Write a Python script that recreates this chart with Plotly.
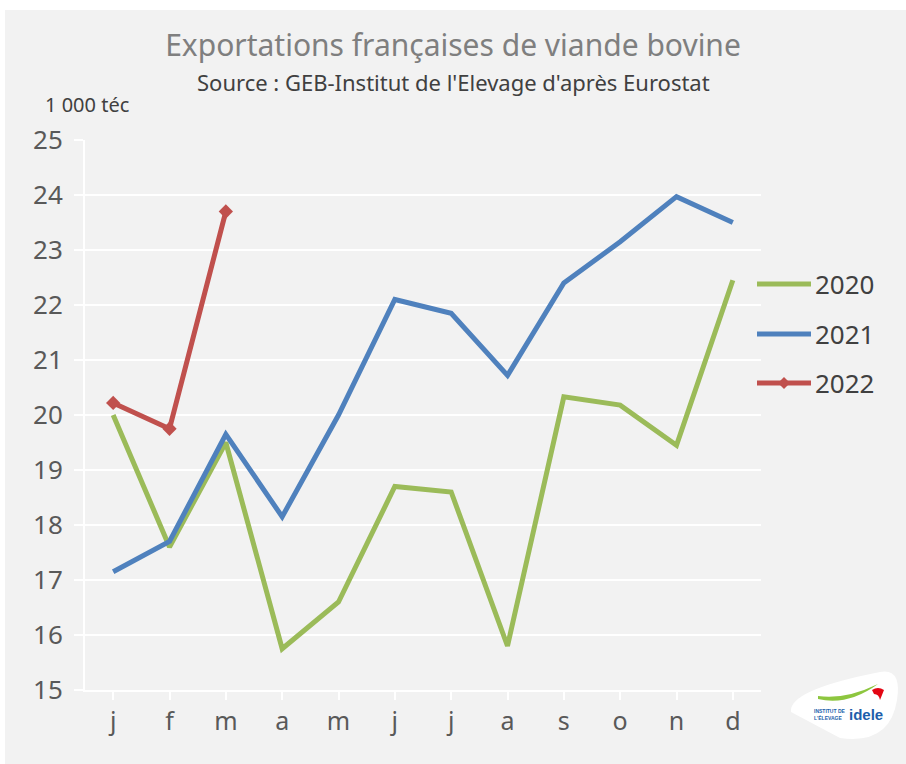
import plotly.graph_objects as go

# Monthly French beef exports, thousand tonnes carcass weight equivalent
months = ["j", "f", "m", "a", "m", "j", "j", "a", "s", "o", "n", "d"]
exports_2020 = [20.0, 17.6, 19.5, 15.75, 16.6, 18.7, 18.6, 15.8, 20.33, 20.18, 19.45, 22.45]
exports_2021 = [17.15, 17.7, 19.65, 18.15, 20.0, 22.1, 21.85, 20.72, 22.4, 23.15, 23.97, 23.5]
exports_2022 = [20.22, 19.75, 23.7]
years = ["2020", "2021", "2022"]

GREEN = "#9bbb59"
BLUE = "#4f81bd"
RED = "#c0504d"
BG = "#f2f2f2"
FONT = "Noto Sans"

W, H = 906, 764
ML, MR, MT, MB = 85, 145, 140, 74
PW, PH = W - ML - MR, H - MT - MB


def px(x):
    return (x - ML) / PW


def py(y):
    return (H - MB - y) / PH


x_idx = list(range(len(months)))

fig = go.Figure()
fig.add_trace(go.Scatter(x=x_idx, y=exports_2020, mode="lines", name=years[0],
                         line=dict(color=GREEN, width=5)))
fig.add_trace(go.Scatter(x=x_idx, y=exports_2021, mode="lines", name=years[1],
                         line=dict(color=BLUE, width=5)))
fig.add_trace(go.Scatter(x=x_idx[:len(exports_2022)], y=exports_2022, mode="lines+markers",
                         name=years[2], line=dict(color=RED, width=5),
                         marker=dict(symbol="diamond", size=11, color=RED)))

shapes = [
    # grey panel behind the whole chart
    dict(type="rect", xref="paper", yref="paper", x0=px(5), x1=px(W + 5),
         y0=py(H + 5), y1=py(10), fillcolor=BG, line=dict(width=0), layer="below"),
]

# legend drawn beside the plot
legend_y = [284, 334, 383]
legend_col = [GREEN, BLUE, RED]
annotations = []
for name, col, ly in zip(years, legend_col, legend_y):
    shapes.append(dict(type="line", xref="paper", yref="paper", x0=px(757), x1=px(811),
                       y0=py(ly), y1=py(ly), line=dict(color=col, width=5)))
    annotations.append(dict(text=name, xref="paper", yref="paper", x=px(813), y=py(ly),
                            xanchor="left", yanchor="middle", showarrow=False,
                            font=dict(family=FONT, size=26, color="#404040")))
shapes.append(dict(type="path", xref="paper", yref="paper",
                   path="M {},{} L {},{} L {},{} L {},{} Z".format(
                       px(778), py(383), px(784), py(377), px(790), py(383), px(784), py(389)),
                   fillcolor=RED, line=dict(width=0)))

# subtitle and unit label
annotations.append(dict(text="Source : GEB-Institut de l'Elevage d'après Eurostat",
                        xref="paper", yref="paper", x=px(454), y=py(82),
                        xanchor="center", yanchor="middle", showarrow=False,
                        font=dict(family=FONT, size=22, color="#404040")))
annotations.append(dict(text="1 000 téc", xref="paper", yref="paper", x=px(43), y=py(105),
                        xanchor="left", yanchor="middle", showarrow=False,
                        font=dict(family=FONT, size=20, color="#404040")))

# idele logo badge
shapes.append(dict(type="path", xref="paper", yref="paper",
                   path="M {},{} Q {},{} {},{} Q {},{} {},{} Q {},{} {},{} Z".format(
                       px(791), py(712),
                       px(788), py(690), px(880), py(672),
                       px(902), py(668), px(897), py(700),
                       px(890), py(745), px(840), py(738)),
                   fillcolor="white", line=dict(width=0)))
shapes.append(dict(type="path", xref="paper", yref="paper",
                   path="M {},{} Q {},{} {},{} Q {},{} {},{} Z".format(
                       px(818), py(696), px(845), py(700), px(878), py(684),
                       px(848), py(706), px(818), py(699)),
                   fillcolor="#8dc63f", line=dict(width=0)))
shapes.append(dict(type="path", xref="paper", yref="paper",
                   path="M {},{} Q {},{} {},{} L {},{} Q {},{} {},{} Z".format(
                       px(872), py(690), px(878), py(686), px(884), py(690),
                       px(880), py(700), px(879), py(694), px(874), py(694)),
                   fillcolor="#e30613", line=dict(width=0)))
annotations.append(dict(text="<b>idele</b>", xref="paper", yref="paper", x=px(866), y=py(714),
                        xanchor="center", yanchor="middle", showarrow=False,
                        font=dict(family="Liberation Sans", size=15, color="#1d5fab")))
annotations.append(dict(text="<b>INSTITUT DE<br>L'ÉLEVAGE</b>", xref="paper", yref="paper",
                        x=px(830), y=py(714), xanchor="center", yanchor="middle",
                        showarrow=False, align="left",
                        font=dict(family="Liberation Sans", size=5, color="#1d5fab")))

fig.update_layout(
    width=W, height=H,
    margin=dict(l=ML, r=MR, t=MT, b=MB),
    paper_bgcolor="white", plot_bgcolor=BG,
    showlegend=False,
    title=dict(text="Exportations françaises de viande bovine", x=0.5, xanchor="center",
               y=1 - 45 / H, yanchor="middle", yref="container",
               font=dict(family=FONT, size=30, color="#7f7f7f")),
    xaxis=dict(range=[-0.5, 11.5], tickmode="array", tickvals=x_idx, ticktext=months,
               tickson="boundaries", ticks="outside", ticklen=8, tickwidth=2,
               tickcolor="white", showline=True, linecolor="white", linewidth=2,
               showgrid=False, zeroline=False,
               tickfont=dict(family=FONT, size=25, color="#595959")),
    yaxis=dict(range=[15, 25], tickvals=list(range(15, 26)), ticks="outside",
               ticklen=9, tickwidth=2, tickcolor="white", showline=True,
               linecolor="white", linewidth=2, gridcolor="white", gridwidth=2,
               zeroline=False, ticklabelstandoff=6,
               tickfont=dict(family=FONT, size=26, color="#595959")),
    shapes=shapes, annotations=annotations,
)

fig.write_html("out.html")
